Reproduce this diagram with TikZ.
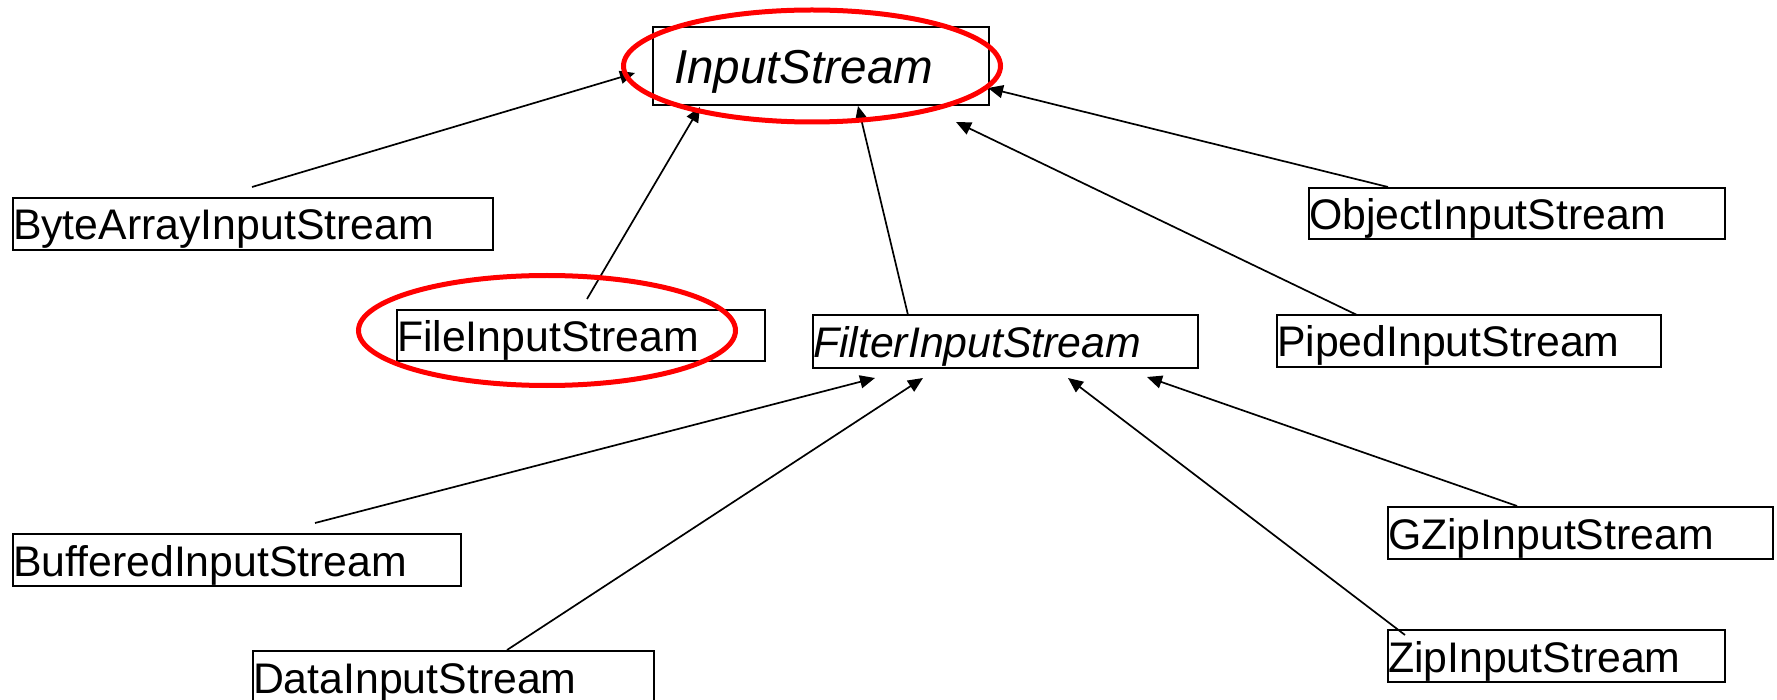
\documentclass[tikz,border=0pt]{standalone}
\usepackage{fontspec}
\setmainfont{Liberation Sans}
\usetikzlibrary{arrows.meta,shapes.geometric}
\tikzset{
  cls/.style={draw, line width=2pt, anchor=north west, inner xsep=0pt, inner ysep=0pt,
    align=left, text height=32pt, text depth=0pt, font=\fontsize{42.8}{50}\selectfont},
  inh/.style={line width=1.7pt, -{Triangle[length=15pt,width=13pt]}},
  ring/.style={ellipse, draw=red, line width=5pt, inner sep=0pt}
}
\begin{document}
\begin{tikzpicture}[x=1pt,y=-1pt]
\useasboundingbox (0,0) rectangle (1777,700);
\clip (0,0) rectangle (1777,700);
% classes
\node[cls, text width=336pt, minimum height=78pt, text height=35pt, font=\fontsize{47.6}{56}\selectfont\itshape] (in) at (652,26) {\hspace*{21pt}InputStream};
\node[cls, text width=480pt, minimum height=52pt] (byte) at (12,197) {ByteArrayInputStream};
\node[cls, text width=368pt, minimum height=51pt] (file) at (396,309) {FileInputStream};
\node[cls, text width=385pt, minimum height=53pt, font=\fontsize{42.8}{50}\selectfont\itshape] (filter) at (812,314) {FilterInputStream};
\node[cls, text width=416pt, minimum height=51pt] (object) at (1308,187) {ObjectInputStream};
\node[cls, text width=384pt, minimum height=52pt] (piped) at (1276,314) {PipedInputStream};
\node[cls, text width=448pt, minimum height=52pt] (buffered) at (12,533) {BufferedInputStream};
\node[cls, text width=401pt, minimum height=52pt] (data) at (252,650) {DataInputStream};
\node[cls, text width=385pt, minimum height=52pt] (gzip) at (1387,506) {GZipInputStream};
\node[cls, text width=337pt, minimum height=52pt] (zip) at (1387,629) {ZipInputStream};
% connector ends
\coordinate (byte-s) at (252,187);   \coordinate (in-t1) at (635,73);
\coordinate (file-s) at (587,299);   \coordinate (in-t2) at (700,107);
\coordinate (filter-s) at (908,315); \coordinate (in-t3) at (858,106);
\coordinate (object-s) at (1388,187);\coordinate (in-t4) at (988,88);
\coordinate (piped-s) at (1357,315); \coordinate (in-t5) at (956,122);
\coordinate (buffered-s) at (315,523); \coordinate (fi-t1) at (875,378);
\coordinate (data-s) at (507,650);   \coordinate (fi-t2) at (923,378);
\coordinate (zip-s) at (1405,635);   \coordinate (fi-t3) at (1068,378);
\coordinate (gzip-s) at (1517,506);  \coordinate (fi-t4) at (1147,377);
% connectors
\draw[inh] (byte-s) -- (in-t1);
\draw[inh] (file-s) -- (in-t2);
\draw[inh] (filter-s) -- (in-t3);
\draw[inh] (object-s) -- (in-t4);
\draw[inh] (piped-s) -- (in-t5);
\draw[inh] (buffered-s) -- (fi-t1);
\draw[inh] (data-s) -- (fi-t2);
\draw[inh] (zip-s) -- (fi-t3);
\draw[inh] (gzip-s) -- (fi-t4);
% red highlight rings
\node[ring, minimum width=377pt, minimum height=112pt] (ring1) at (812,66) {};
\node[ring, minimum width=377pt, minimum height=110pt] (ring2) at (547,330.5) {};
\end{tikzpicture}
\end{document}
